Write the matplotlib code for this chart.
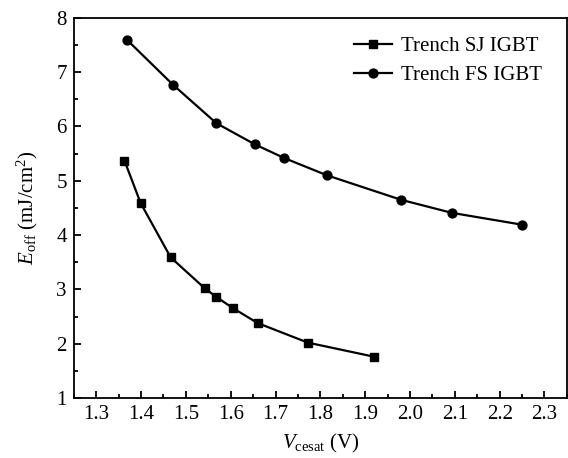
import matplotlib
matplotlib.use("Agg")
import matplotlib.pyplot as plt
from matplotlib.ticker import MultipleLocator

plt.rcParams['font.family'] = ['Liberation Serif', 'DejaVu Serif']
plt.rcParams['mathtext.fontset'] = 'custom'
plt.rcParams['mathtext.rm'] = 'Liberation Serif'
plt.rcParams['mathtext.it'] = 'Liberation Serif:italic'

sj_v = [1.363, 1.399, 1.466, 1.542, 1.568, 1.606, 1.660, 1.772, 1.920]
sj_e = [5.37, 4.59, 3.59, 3.02, 2.86, 2.65, 2.38, 2.02, 1.76]
fs_v = [1.368, 1.471, 1.568, 1.654, 1.719, 1.815, 1.980, 2.093, 2.251]
fs_e = [7.60, 6.77, 6.06, 5.67, 5.42, 5.10, 4.65, 4.41, 4.19]

fig = plt.figure(figsize=(5.68, 4.58), dpi=100)
ax = fig.add_axes([0.130, 0.131, 0.868, 0.830])

ax.plot(sj_v, sj_e, color='black', lw=1.6, marker='s', ms=5.8, label='Trench SJ IGBT')
ax.plot(fs_v, fs_e, color='black', lw=1.6, marker='o', ms=6.4, label='Trench FS IGBT')

ax.set_xlim(1.25, 2.35)
ax.set_ylim(1, 8)
ax.xaxis.set_major_locator(MultipleLocator(0.1))
ax.xaxis.set_minor_locator(MultipleLocator(0.05))
ax.yaxis.set_major_locator(MultipleLocator(1))
ax.yaxis.set_minor_locator(MultipleLocator(0.5))
ax.set_xticks([1.3, 1.4, 1.5, 1.6, 1.7, 1.8, 1.9, 2.0, 2.1, 2.2, 2.3])
ax.set_xticklabels(['1.3', '1.4', '1.5', '1.6', '1.7', '1.8', '1.9', '2.0', '2.1', '2.2', '2.3'])
ax.tick_params(which='both', direction='in', labelsize=15, width=1.3)
ax.tick_params(which='major', length=5, pad=5)
ax.tick_params(which='minor', length=3)
for s in ax.spines.values():
    s.set_linewidth(1.3)

ax.set_xlabel(r'$\mathit{V}_{\mathrm{cesat}}$ (V)', fontsize=15, labelpad=6)
ax.set_ylabel(r'$\mathit{E}_{\mathrm{off}}$ (mJ/cm$^{2}$)', fontsize=15, labelpad=12)

ax.legend(loc='upper right', bbox_to_anchor=(0.988, 1.0), frameon=False, fontsize=15,
          handlelength=1.8, handletextpad=0.45, labelspacing=0.45, borderaxespad=0.5)

fig.savefig('out.png', dpi=100)
